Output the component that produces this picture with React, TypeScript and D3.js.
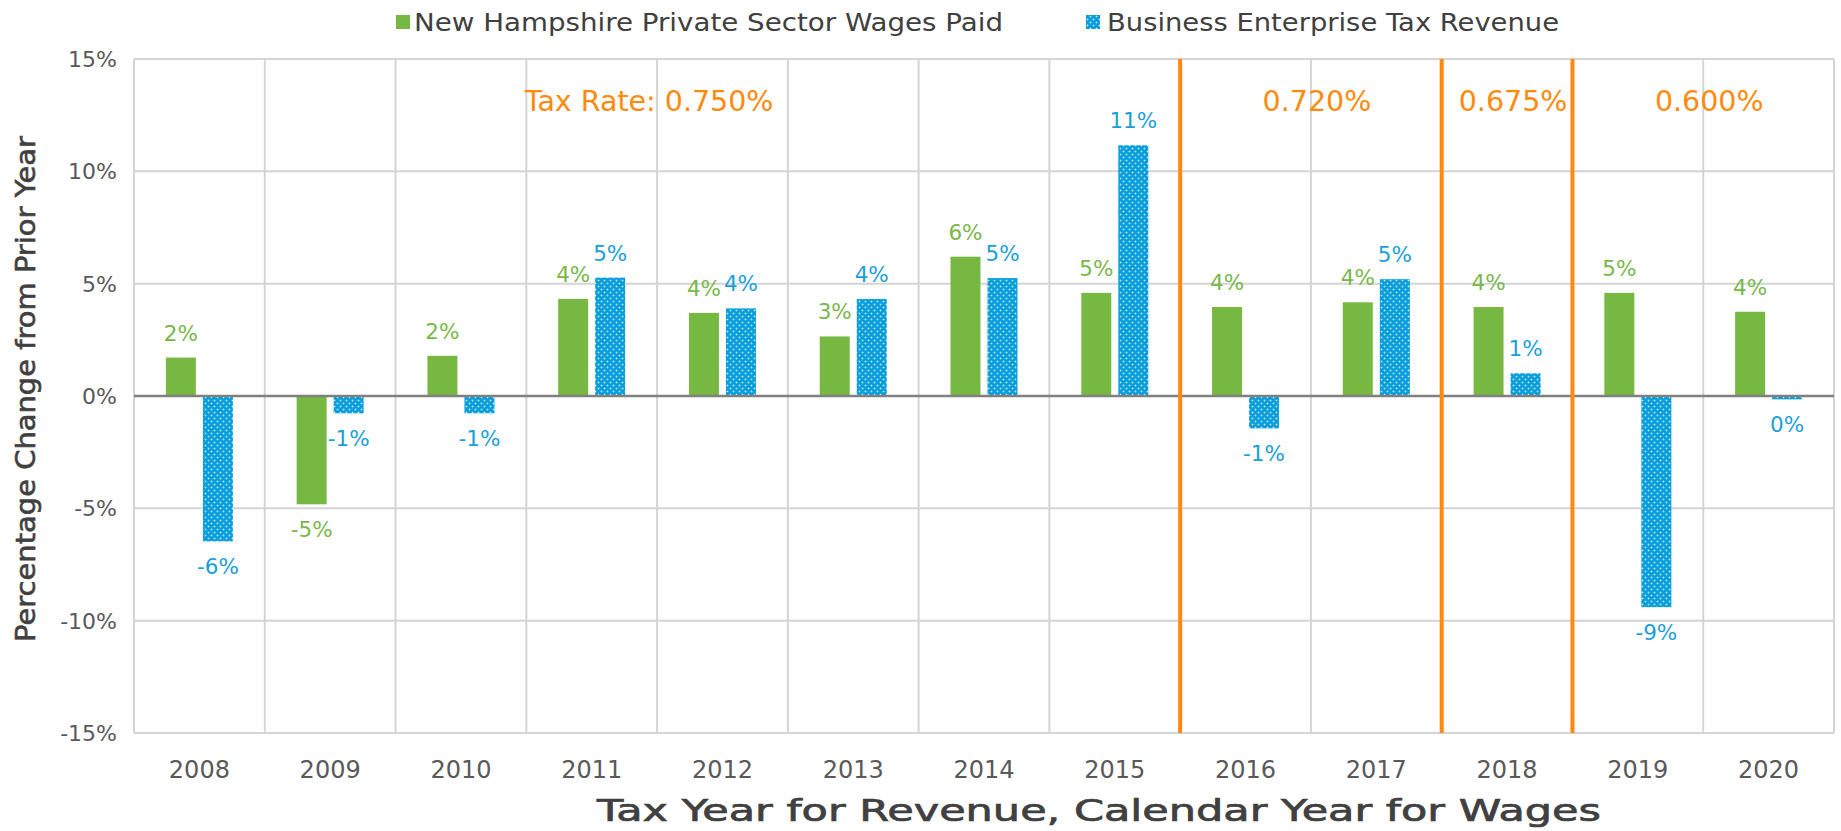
import * as d3 from 'd3'

// categories and values (percent change from prior year)
const years = ['2008', '2009', '2010', '2011', '2012', '2013', '2014', '2015', '2016', '2017', '2018', '2019', '2020']
const wages = [1.71, -4.82, 1.79, 4.32, 3.7, 2.65, 6.2, 4.59, 3.96, 4.17, 3.96, 4.59, 3.75]
const betRevenue = [-6.47, -0.77, -0.77, 5.27, 3.9, 4.32, 5.25, 11.16, -1.44, 5.2, 1.01, -9.4, -0.15]
const seriesNames = ['New Hampshire Private Sector Wages Paid', 'Business Enterprise Tax Revenue']
const yTicks = [-15, -10, -5, 0, 5, 10, 15]

// tax rate periods: first year, last year, label
const taxRateStarts = ['2008', '2016', '2018', '2019']
const taxRateEnds = ['2015', '2017', '2018', '2020']
const taxRateLabels = ['Tax Rate: 0.750%', '0.720%', '0.675%', '0.600%']

const W = 1841
const H = 831
const FONT = "'DejaVu Sans', sans-serif"
const GREEN = '#77B843'
const BLUE = '#069FDC'
const ORANGE = '#FF8A0D'
const GRAY = '#595959'
const DARK = '#404040'

export default function App () {
    const left = 134, right = 1834, top = 59, bottom = 733

    const x = d3.scaleBand().domain(years).range([left, right])
    const bw = x.bandwidth()
    const groupW = 67
    const x1 = d3.scaleBand().domain(seriesNames)
        .range([(bw - groupW) / 2, (bw + groupW) / 2])
        .paddingInner(0.19)
    const y = d3.scaleLinear().domain([-15, 15]).range([bottom, top])

    const fmt = (v) => {
        const r = Math.round(v)
        return (r === 0 ? 0 : r) + '%'
    }

    const series = [
        { name: seriesNames[0], values: wages, fill: GREEN, text: '#78B84A' },
        { name: seriesNames[1], values: betRevenue, fill: 'url(#dots)', text: '#1A9FDB' },
    ]

    return (
        <svg width={W} height={H} style={{ position: 'absolute', left: 0, top: 0, background: '#fff' }}
            fontFamily={FONT}>
            <defs>
                <pattern id="dots" width="6" height="6" patternUnits="userSpaceOnUse">
                    <rect width="6" height="6" fill={BLUE} />
                    <rect x="0.8" y="0.8" width="1.4" height="1.4" fill="#fff" />
                    <rect x="3.8" y="3.8" width="1.4" height="1.4" fill="#fff" />
                </pattern>
            </defs>

            {/* legend */}
            <rect x={396} y={15} width={14} height={14} fill={GREEN} />
            <text x={414} y={31} fontSize={25} fill={DARK} textLength={589} lengthAdjust="spacingAndGlyphs">{seriesNames[0]}</text>
            <rect x={1086} y={15} width={14} height={14} fill="url(#dots)" />
            <text x={1107} y={31} fontSize={25} fill={DARK} textLength={452} lengthAdjust="spacingAndGlyphs">{seriesNames[1]}</text>

            {/* grid */}
            <g stroke="#D4D4D4" strokeWidth={2}>
                {yTicks.map(t => (
                    <line key={t} x1={left} x2={right} y1={y(t)} y2={y(t)} />
                ))}
                {years.map(yr => (
                    <line key={yr} x1={x(yr)} x2={x(yr)} y1={top} y2={bottom} />
                ))}
                <line x1={right} x2={right} y1={top} y2={bottom} />
            </g>

            {/* y tick labels */}
            {yTicks.map(t => (
                <text key={t} x={117} y={y(t) + 8} textAnchor="end" fontSize={22} fill={GRAY}>{t}%</text>
            ))}

            {/* bars */}
            {series.map(s => (
                <g key={s.name}>
                    {s.values.map((v, i) => (
                        <rect key={years[i]}
                            x={x(years[i]) + x1(s.name)}
                            y={y(Math.max(0, v))}
                            width={x1.bandwidth()}
                            height={Math.abs(y(v) - y(0))}
                            fill={s.fill} />
                    ))}
                </g>
            ))}

            {/* zero line */}
            <line x1={left} x2={right} y1={y(0)} y2={y(0)} stroke="#808080" strokeWidth={2.5} />

            {/* data labels */}
            {series.map(s => (
                <g key={s.name + '-lbl'}>
                    {s.values.map((v, i) => (
                        <text key={years[i]}
                            x={x(years[i]) + x1(s.name) + x1.bandwidth() / 2}
                            y={v >= 0 ? y(v) - 17 : y(v) + 33}
                            textAnchor="middle" fontSize={21.5} fill={s.text}>
                            {fmt(v)}
                        </text>
                    ))}
                </g>
            ))}

            {/* tax rate change lines */}
            {taxRateStarts.slice(1).map(yr => (
                <line key={yr} x1={x(yr)} x2={x(yr)} y1={top} y2={bottom} stroke={ORANGE} strokeWidth={4} />
            ))}
            {taxRateLabels.map((lbl, i) => (
                <text key={lbl}
                    x={(x(taxRateStarts[i]) + x(taxRateEnds[i]) + bw) / 2 + (i === 0 ? -8 : 6)}
                    y={111} textAnchor="middle" fontSize={28.5} fill={ORANGE}>
                    {lbl}
                </text>
            ))}

            {/* x tick labels */}
            {years.map(yr => (
                <text key={yr} x={x(yr) + bw / 2} y={778} textAnchor="middle" fontSize={24} fill={GRAY}>{yr}</text>
            ))}

            {/* axis titles */}
            <text x={1099} y={821} textAnchor="middle" fontSize={30} fill={DARK}
                stroke={DARK} strokeWidth={0.7}
                textLength={1004} lengthAdjust="spacingAndGlyphs">
                Tax Year for Revenue, Calendar Year for Wages
            </text>
            <text transform="translate(35,389) rotate(-90)" textAnchor="middle" fontSize={26} fill={DARK}
                stroke={DARK} strokeWidth={0.6}
                textLength={506} lengthAdjust="spacingAndGlyphs">
                Percentage Change from Prior Year
            </text>
        </svg>
    )
}
